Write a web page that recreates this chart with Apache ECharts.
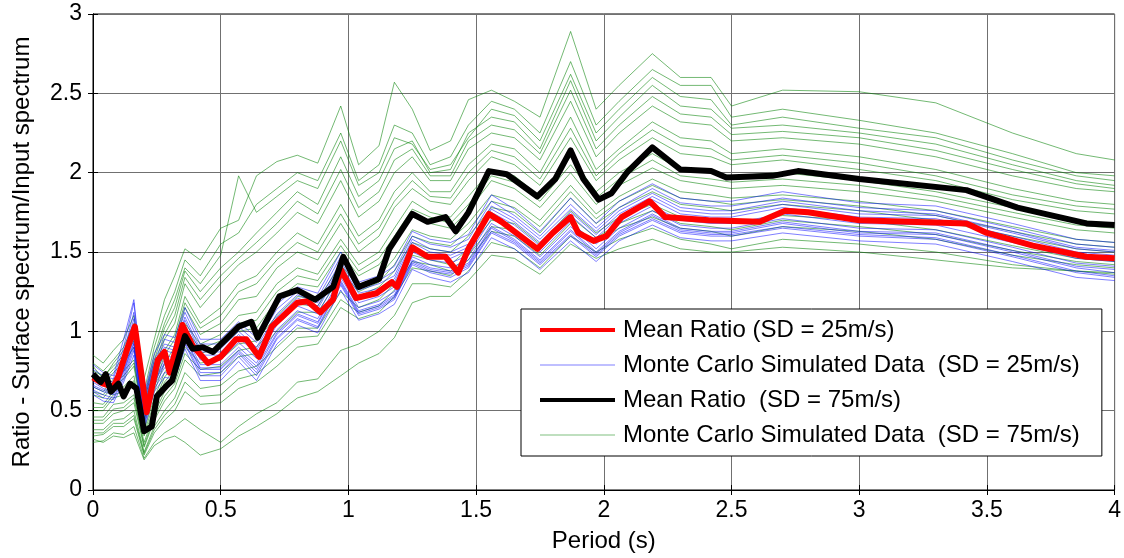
<!DOCTYPE html>
<html>
<head>
<meta charset="utf-8">
<script src="https://cdn.jsdelivr.net/npm/echarts@6/dist/echarts.min.js"></script>
<style>
html,body{margin:0;padding:0;background:#fff;}
#chart{width:1124px;height:558px;}
</style>
</head>
<body>
<div id="chart"></div>
<script>
// mean curves
var redX = [0,0.04,0.08,0.1,0.13,0.164,0.21,0.254,0.28,0.30,0.35,0.39,0.45,0.50,0.56,0.60,0.65,0.70,0.80,0.84,0.89,0.94,0.97,1.03,1.11,1.17,1.19,1.25,1.31,1.38,1.43,1.47,1.55,1.60,1.74,1.80,1.87,1.90,1.96,2.01,2.07,2.18,2.24,2.41,2.61,2.71,2.80,3.0,3.42,3.50,3.68,3.89,4.0];
var redY = [0.71,0.67,0.65,0.72,0.87,1.03,0.49,0.82,0.87,0.74,1.04,0.91,0.80,0.84,0.95,0.95,0.84,1.03,1.18,1.19,1.12,1.20,1.39,1.21,1.24,1.31,1.28,1.53,1.47,1.47,1.37,1.52,1.74,1.69,1.52,1.62,1.72,1.62,1.57,1.60,1.72,1.82,1.72,1.70,1.69,1.76,1.75,1.70,1.68,1.62,1.54,1.47,1.46];
var blackX = [0,0.03,0.05,0.07,0.10,0.12,0.145,0.17,0.20,0.23,0.25,0.29,0.31,0.36,0.39,0.43,0.47,0.52,0.57,0.62,0.645,0.73,0.80,0.87,0.94,0.98,1.04,1.12,1.16,1.25,1.31,1.38,1.42,1.47,1.55,1.62,1.74,1.81,1.87,1.92,1.98,2.03,2.09,2.19,2.30,2.42,2.48,2.66,2.76,3.0,3.42,3.62,3.89,4.0];
var blackY = [0.73,0.68,0.73,0.62,0.67,0.59,0.67,0.64,0.37,0.40,0.59,0.66,0.69,0.97,0.89,0.90,0.87,0.95,1.03,1.06,0.96,1.22,1.26,1.20,1.28,1.47,1.28,1.33,1.52,1.74,1.69,1.72,1.63,1.75,2.01,1.99,1.85,1.96,2.14,1.96,1.83,1.87,2.00,2.16,2.02,2.01,1.97,1.98,2.01,1.96,1.89,1.78,1.68,1.67];

// monte carlo curves share one period grid
var mcX = [0,0.04,0.08,0.12,0.16,0.2,0.24,0.28,0.32,0.36,0.42,0.5,0.57,0.64,0.72,0.8,0.88,0.97,1.04,1.12,1.18,1.25,1.32,1.4,1.47,1.56,1.65,1.75,1.87,1.97,2.06,2.19,2.3,2.42,2.5,2.7,3.0,3.3,3.6,3.85,4.0];

var blue1 = [0.76,0.72,0.70,0.90,1.18,0.58,0.82,0.95,0.93,1.12,0.92,0.92,1.03,0.93,1.14,1.25,1.21,1.47,1.28,1.32,1.38,1.60,1.55,1.53,1.58,1.82,1.73,1.60,1.80,1.65,1.78,1.90,1.81,1.79,1.79,1.84,1.78,1.76,1.65,1.55,1.53];
var blue2 = [0.68,0.64,0.62,0.76,0.95,0.47,0.70,0.82,0.80,0.98,0.79,0.79,0.90,0.80,1.01,1.13,1.08,1.34,1.15,1.19,1.25,1.47,1.42,1.40,1.45,1.68,1.60,1.47,1.66,1.52,1.65,1.76,1.67,1.65,1.65,1.71,1.65,1.64,1.53,1.43,1.41];
var blue3 = [0.62,0.58,0.57,0.70,0.88,0.40,0.64,0.74,0.73,0.92,0.72,0.72,0.84,0.72,0.95,1.07,1.02,1.29,1.10,1.14,1.20,1.42,1.37,1.34,1.40,1.62,1.55,1.42,1.60,1.47,1.60,1.70,1.62,1.60,1.60,1.65,1.60,1.58,1.47,1.37,1.34];
var blue4 = [0.73,0.70,0.68,0.84,1.08,0.54,0.78,0.90,0.88,1.07,0.87,0.87,0.98,0.88,1.09,1.21,1.16,1.42,1.24,1.27,1.33,1.56,1.50,1.48,1.53,1.77,1.69,1.56,1.75,1.61,1.74,1.85,1.76,1.74,1.74,1.80,1.74,1.73,1.62,1.52,1.50];
var blue5 = [0.65,0.62,0.60,0.74,0.92,0.44,0.68,0.79,0.78,0.95,0.76,0.76,0.87,0.76,0.98,1.10,1.05,1.31,1.12,1.16,1.22,1.44,1.39,1.37,1.42,1.65,1.57,1.44,1.63,1.49,1.62,1.73,1.64,1.62,1.62,1.68,1.62,1.61,1.50,1.40,1.37];
var blue6 = [0.79,0.74,0.72,0.95,1.20,0.60,0.86,0.98,0.96,1.15,0.95,0.95,1.06,0.96,1.17,1.28,1.24,1.50,1.31,1.35,1.41,1.63,1.58,1.56,1.61,1.86,1.77,1.63,1.84,1.68,1.82,1.93,1.84,1.82,1.82,1.88,1.81,1.79,1.68,1.58,1.56];
var blue7 = [0.70,0.66,0.63,0.79,1.00,0.50,0.73,0.85,0.83,1.01,0.82,0.82,0.93,0.83,1.04,1.16,1.11,1.37,1.18,1.22,1.28,1.50,1.45,1.43,1.48,1.71,1.63,1.50,1.69,1.55,1.68,1.79,1.70,1.68,1.68,1.74,1.68,1.67,1.56,1.46,1.44];
var blue8 = [0.60,0.56,0.55,0.68,0.85,0.38,0.62,0.71,0.70,0.89,0.69,0.69,0.81,0.69,0.92,1.04,0.99,1.26,1.07,1.11,1.17,1.39,1.34,1.31,1.37,1.59,1.52,1.39,1.57,1.44,1.57,1.67,1.59,1.57,1.57,1.62,1.57,1.55,1.44,1.34,1.32];
var blue9 = [0.74,0.69,0.66,0.86,1.12,0.56,0.80,0.92,0.90,1.09,0.89,0.89,1.00,0.90,1.11,1.23,1.18,1.44,1.26,1.30,1.35,1.58,1.52,1.50,1.55,1.79,1.71,1.58,1.77,1.63,1.76,1.87,1.78,1.76,1.76,1.82,1.76,1.74,1.63,1.53,1.51];
var blue10 = [0.66,0.63,0.61,0.75,0.93,0.45,0.69,0.80,0.79,0.96,0.77,0.77,0.88,0.78,0.99,1.11,1.06,1.32,1.13,1.17,1.23,1.45,1.40,1.38,1.43,1.66,1.58,1.45,1.64,1.50,1.63,1.74,1.65,1.63,1.63,1.69,1.63,1.62,1.51,1.41,1.39];
var blue11 = [0.71,0.68,0.66,0.82,1.04,0.52,0.76,0.88,0.86,1.04,0.85,0.85,0.96,0.86,1.07,1.19,1.14,1.40,1.21,1.25,1.31,1.54,1.48,1.46,1.51,1.75,1.67,1.54,1.73,1.59,1.72,1.83,1.74,1.72,1.72,1.78,1.72,1.71,1.60,1.50,1.48];
var blue12 = [0.63,0.60,0.58,0.72,0.90,0.42,0.66,0.77,0.76,0.93,0.74,0.74,0.86,0.74,0.96,1.08,1.03,1.30,1.11,1.15,1.21,1.43,1.38,1.36,1.41,1.63,1.56,1.43,1.61,1.48,1.61,1.71,1.63,1.61,1.61,1.66,1.61,1.59,1.48,1.38,1.35];

var green1 = [0.85,0.80,0.88,0.95,1.10,0.70,0.95,1.20,1.35,1.52,1.45,1.65,1.70,1.98,2.07,2.11,2.06,2.42,2.05,2.17,2.57,2.40,2.14,2.20,2.46,2.52,2.45,2.35,2.89,2.40,2.55,2.75,2.60,2.60,2.42,2.52,2.51,2.44,2.25,2.12,2.08];
var green2 = [0.80,0.75,0.82,0.90,1.05,0.62,0.90,1.10,1.25,1.45,1.35,1.55,1.62,1.80,1.90,2.00,1.95,2.25,1.95,2.05,2.30,2.25,2.05,2.10,2.30,2.45,2.40,2.25,2.70,2.30,2.45,2.65,2.55,2.55,2.35,2.40,2.33,2.25,2.12,2.00,1.98];
var green3 = [0.75,0.72,0.78,0.85,0.98,0.55,0.82,1.02,1.15,1.38,1.25,1.40,1.50,1.62,1.75,1.88,1.80,2.10,1.85,1.95,2.15,2.20,2.00,2.02,2.25,2.35,2.32,2.15,2.58,2.20,2.35,2.55,2.42,2.40,2.28,2.30,2.25,2.18,2.05,1.95,1.92];
var green4 = [0.70,0.66,0.74,0.80,0.90,0.50,0.75,0.95,1.05,1.30,1.15,1.30,1.42,1.50,1.62,1.75,1.68,1.95,1.72,1.82,2.00,2.10,1.95,1.95,2.15,2.25,2.22,2.08,2.45,2.10,2.25,2.42,2.32,2.30,2.20,2.22,2.18,2.10,1.98,1.90,1.88];
var green5 = [0.65,0.62,0.70,0.75,0.82,0.45,0.68,0.88,0.98,1.22,1.05,1.15,1.30,1.35,1.50,1.62,1.55,1.80,1.60,1.70,1.88,2.00,1.88,1.88,2.05,2.18,2.15,2.00,2.35,2.02,2.15,2.32,2.22,2.20,2.12,2.15,2.10,2.02,1.90,1.82,1.80];
var green6 = [0.60,0.58,0.66,0.70,0.78,0.42,0.62,0.80,0.90,1.15,0.98,1.05,1.20,1.22,1.40,1.50,1.45,1.68,1.50,1.60,1.78,1.90,1.82,1.80,1.95,2.10,2.05,1.92,2.22,1.95,2.08,2.22,2.12,2.10,2.05,2.08,2.02,1.95,1.83,1.76,1.74];
var green7 = [0.55,0.54,0.62,0.65,0.72,0.38,0.58,0.74,0.83,1.05,0.92,0.98,1.10,1.12,1.30,1.40,1.36,1.58,1.42,1.50,1.65,1.82,1.75,1.72,1.85,2.02,1.98,1.85,2.10,1.88,2.00,2.12,2.02,2.00,1.98,2.00,1.95,1.88,1.78,1.70,1.68];
var green8 = [0.50,0.50,0.58,0.60,0.66,0.34,0.52,0.68,0.76,0.98,0.86,0.90,1.00,1.02,1.20,1.30,1.28,1.50,1.35,1.42,1.55,1.72,1.68,1.65,1.76,1.95,1.90,1.78,2.00,1.80,1.92,2.03,1.95,1.92,1.90,1.92,1.88,1.82,1.72,1.64,1.62];
var green9 = [0.46,0.46,0.54,0.55,0.60,0.30,0.48,0.62,0.70,0.90,0.80,0.82,0.92,0.94,1.10,1.22,1.20,1.42,1.28,1.35,1.46,1.64,1.60,1.58,1.68,1.86,1.82,1.70,1.92,1.74,1.85,1.96,1.88,1.86,1.84,1.86,1.82,1.76,1.66,1.58,1.56];
var green10 = [0.42,0.42,0.48,0.50,0.55,0.27,0.44,0.56,0.64,0.82,0.72,0.74,0.84,0.86,1.00,1.12,1.12,1.35,1.22,1.28,1.38,1.56,1.52,1.50,1.60,1.78,1.75,1.62,1.84,1.68,1.78,1.88,1.80,1.78,1.76,1.80,1.76,1.70,1.60,1.52,1.50];
var green11 = [0.38,0.38,0.44,0.45,0.50,0.24,0.40,0.50,0.58,0.74,0.64,0.66,0.75,0.78,0.90,1.02,1.02,1.25,1.15,1.20,1.30,1.48,1.45,1.42,1.52,1.70,1.68,1.55,1.76,1.62,1.72,1.80,1.72,1.70,1.68,1.73,1.70,1.64,1.54,1.46,1.44];
var green12 = [0.34,0.35,0.40,0.40,0.45,0.22,0.36,0.44,0.50,0.62,0.54,0.55,0.64,0.68,0.78,0.90,0.92,1.15,1.08,1.12,1.22,1.40,1.38,1.35,1.45,1.63,1.60,1.48,1.68,1.56,1.65,1.72,1.65,1.63,1.60,1.66,1.63,1.58,1.48,1.42,1.40];
var green13 = [0.30,0.31,0.36,0.35,0.40,0.20,0.30,0.36,0.40,0.45,0.38,0.30,0.40,0.48,0.55,0.68,0.70,0.88,0.92,1.00,1.10,1.30,1.30,1.28,1.38,1.56,1.52,1.40,1.60,1.50,1.58,1.65,1.58,1.55,1.52,1.58,1.55,1.50,1.42,1.38,1.36];
var green14 = [0.32,0.30,0.34,0.33,0.36,0.19,0.28,0.32,0.34,0.30,0.22,0.26,0.34,0.40,0.48,0.58,0.62,0.72,0.80,0.86,0.96,1.18,1.22,1.22,1.32,1.48,1.46,1.36,1.55,1.46,1.52,1.58,1.52,1.50,1.50,1.53,1.50,1.45,1.40,1.38,1.37];
var green15 = [0.78,0.70,0.80,0.88,1.00,0.58,0.85,1.05,1.20,1.40,1.30,1.48,1.98,1.75,1.85,1.95,1.90,2.20,1.92,2.00,2.22,2.18,2.02,2.05,2.22,2.40,2.36,2.20,2.62,2.25,2.40,2.60,2.48,2.46,2.30,2.35,2.28,2.22,2.08,1.98,1.95];
var green16 = [0.62,0.60,0.68,0.72,0.80,0.44,0.65,0.85,0.95,1.18,1.02,1.10,1.25,1.30,1.45,1.56,1.50,1.74,1.55,1.65,1.82,1.95,1.85,1.84,2.00,2.14,2.10,1.96,2.28,1.98,2.12,2.27,2.17,2.15,2.08,2.11,2.06,1.98,1.86,1.79,1.77];
var green17 = [0.52,0.52,0.60,0.62,0.69,0.36,0.55,0.71,0.80,1.02,0.89,0.94,1.05,1.07,1.25,1.35,1.32,1.54,1.38,1.46,1.60,1.77,1.72,1.68,1.80,1.98,1.94,1.82,2.05,1.84,1.96,2.08,1.98,1.96,1.94,1.96,1.92,1.85,1.75,1.67,1.65];
var green18 = [0.44,0.44,0.51,0.52,0.58,0.28,0.46,0.59,0.67,0.86,0.76,0.78,0.88,0.90,1.05,1.17,1.16,1.38,1.25,1.31,1.42,1.60,1.56,1.54,1.64,1.82,1.78,1.66,1.88,1.71,1.82,1.92,1.84,1.82,1.80,1.83,1.79,1.73,1.63,1.55,1.53];
var green19 = [0.36,0.36,0.42,0.42,0.47,0.23,0.38,0.47,0.54,0.68,0.59,0.60,0.70,0.73,0.84,0.96,0.97,1.20,1.12,1.16,1.26,1.44,1.42,1.38,1.48,1.66,1.64,1.52,1.72,1.59,1.68,1.76,1.68,1.66,1.64,1.70,1.66,1.61,1.51,1.44,1.42];
var green20 = [0.72,0.69,0.76,0.83,0.94,0.52,0.78,0.98,1.10,1.34,1.20,1.35,1.46,1.56,1.68,1.82,1.74,2.02,1.78,1.88,2.08,2.15,1.98,1.98,2.20,2.30,2.27,2.12,2.52,2.15,2.30,2.48,2.37,2.35,2.24,2.26,2.22,2.14,2.02,1.93,1.90];

var nameRed = 'Mean Ratio (SD = 25m/s)';
var nameBlue = 'Monte Carlo Simulated Data  (SD = 25m/s)';
var nameBlack = 'Mean Ratio  (SD = 75m/s)';
var nameGreen = 'Monte Carlo Simulated Data  (SD = 75m/s)';

var blues = [blue1,blue2,blue3,blue4,blue5,blue6,blue7,blue8,blue9,blue10,blue11,blue12];
var greens = [green1,green2,green3,green4,green5,green6,green7,green8,green9,green10,
              green11,green12,green13,green14,green15,green16,green17,green18,green19,green20];

function pairUp(xs, ys){
    var out = [];
    for(var i=0;i<xs.length;i++){
        out.push([xs[i], ys[i]]);
    }
    return out;
}
function thinLine(name, ys, color){
    return {
        name: name, type: 'line', data: pairUp(mcX, ys),
        symbol: 'none', silent: true,
        lineStyle: {color: color, width: 1},
        itemStyle: {color: color}
    };
}

var series = [];
for(var i=0;i<greens.length;i++){
    series.push(thinLine(nameGreen, greens[i], 'rgba(0,128,0,0.55)'));
}
for(var i=0;i<blues.length;i++){
    series.push(thinLine(nameBlue, blues[i], 'rgba(0,0,255,0.5)'));
}
series.push({
    name: nameRed, type: 'line', data: pairUp(redX, redY), symbol: 'none',
    lineStyle: {color: '#ff0000', width: 6, join: 'round'}, itemStyle: {color: '#ff0000'}
});
series.push({
    name: nameBlack, type: 'line', data: pairUp(blackX, blackY), symbol: 'none',
    lineStyle: {color: '#000000', width: 6, join: 'round'}, itemStyle: {color: '#000000'}
});

// legend swatches: flat bars, thick for means, hairline for simulations
var thickBar = 'path://M0,0 L75,0 L75,4 L0,4 Z';
var thinBar = 'path://M0,0 L75,0 L75,1 L0,1 Z';

var font = 'Liberation Sans, Arial, sans-serif';
var gridLine = {show: true, lineStyle: {color: '#707070', width: 1}};
var tick = {show: true, inside: true, length: 5, lineStyle: {color: '#000'}};

var myChart = echarts.init(document.getElementById('chart'), null, {renderer: 'canvas'});
var option = {
    animation: false,
    backgroundColor: '#fff',
    grid: {left: 93, right: 8, top: 14, bottom: 67, show: true, borderColor: '#000', borderWidth: 1},
    legend: {
        orient: 'vertical', left: 521, top: 309,
        data: [
            {name: nameRed, icon: thickBar, itemStyle: {color: '#ff0000'}},
            {name: nameBlue, icon: thinBar, itemStyle: {color: '#8080ff'}},
            {name: nameBlack, icon: thickBar, itemStyle: {color: '#000000'}},
            {name: nameGreen, icon: thinBar, itemStyle: {color: '#80c080'}}
        ],
        itemWidth: 75, itemHeight: 14, itemGap: 11, symbolKeepAspect: true,
        backgroundColor: '#fff', borderColor: '#000', borderWidth: 1,
        padding: [9, 22, 9, 19],
        textStyle: {fontFamily: font, fontSize: 24, color: '#000', padding: [0, 0, 0, 3]},
        selectedMode: false
    },
    xAxis: [{
        type: 'value', min: 0, max: 4, interval: 0.5,
        name: 'Period (s)', nameLocation: 'middle', nameGap: 39,
        nameTextStyle: {fontFamily: font, fontSize: 24, color: '#000'},
        axisLine: {show: true, onZero: false, lineStyle: {color: '#000'}},
        axisTick: tick, splitLine: gridLine,
        axisLabel: {fontFamily: font, fontSize: 23, color: '#000', margin: 9}
    }, {
        type: 'value', min: 0, max: 4, interval: 0.5, position: 'top',
        axisLine: {show: true, lineStyle: {color: '#000'}},
        axisTick: tick, splitLine: {show: false}, axisLabel: {show: false}
    }],
    yAxis: [{
        type: 'value', min: 0, max: 3, interval: 0.5,
        name: 'Ratio - Surface spectrum/Input spectrum', nameLocation: 'middle', nameGap: 59,
        nameTextStyle: {fontFamily: font, fontSize: 24, color: '#000'},
        axisLine: {show: true, lineStyle: {color: '#000'}},
        axisTick: tick, splitLine: gridLine,
        axisLabel: {fontFamily: font, fontSize: 23, color: '#000', margin: 11}
    }, {
        type: 'value', min: 0, max: 3, interval: 0.5, position: 'right',
        axisLine: {show: true, lineStyle: {color: '#000'}},
        axisTick: tick, splitLine: {show: false}, axisLabel: {show: false}
    }],
    series: series
};
myChart.setOption(option);
</script>
</body>
</html>
